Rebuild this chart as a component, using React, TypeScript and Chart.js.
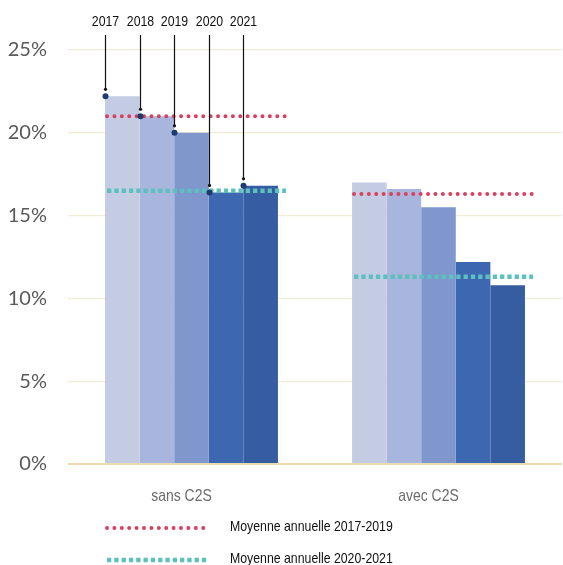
import { useEffect, useRef } from 'react';
import { Chart, registerables } from 'chart.js';

Chart.register(...registerables);

// Categories and yearly series (percent)
const categories = ['sans C2S', 'avec C2S'];
const years = ['2017', '2018', '2019', '2020', '2021'];
const y2017 = [22.2, 17.0];
const y2018 = [21.0, 16.6];
const y2019 = [20.0, 15.5];
const y2020 = [16.4, 12.2];
const y2021 = [16.8, 10.8];
const avg2017_2019 = [21.0, 16.3];
const avg2020_2021 = [16.5, 11.3];
const yTicks = [0, 5, 10, 15, 20, 25];
const legendLabels = ['Moyenne annuelle 2017-2019', 'Moyenne annuelle 2020-2021'];

const seriesByYear = [y2017, y2018, y2019, y2020, y2021];
const barColors = ['#c4cce4', '#a8b5dd', '#8097cd', '#3d67b0', '#365da2'];
const RED = '#d9405e';
const TEAL = '#5bc0be';
const SANS = '"Liberation Sans", Arial, sans-serif';
const NARROW_SCALE = 0.82;

// Condensed text: Liberation Sans squeezed horizontally
function narrowText(ctx: CanvasRenderingContext2D, text: string, x: number, y: number, size: number, color: string, align: CanvasTextAlign) {
  ctx.save();
  ctx.font = `${size}px ${SANS}`;
  ctx.fillStyle = color;
  ctx.textAlign = align;
  ctx.textBaseline = 'middle';
  ctx.translate(x, y);
  ctx.scale(NARROW_SCALE, 1);
  ctx.fillText(text, 0, 0);
  ctx.restore();
}

const avgStyles = [
  { values: avg2017_2019, color: RED, dash: [0, 7.4], cap: 'round' as CanvasLineCap, width: 4 },
  { values: avg2020_2021, color: TEAL, dash: [4.3, 3], cap: 'butt' as CanvasLineCap, width: 4.5 },
];

function strokeDotted(ctx: CanvasRenderingContext2D, s: typeof avgStyles[number], x0: number, x1: number, y: number) {
  ctx.save();
  ctx.strokeStyle = s.color;
  ctx.lineWidth = s.width;
  ctx.lineCap = s.cap;
  ctx.setLineDash(s.dash);
  ctx.beginPath();
  ctx.moveTo(x0, y);
  ctx.lineTo(x1, y);
  ctx.stroke();
  ctx.restore();
}

const overlayPlugin = {
  id: 'overlays',
  afterDatasetsDraw(chart: any) {
    const { ctx, chartArea } = chart;
    const ys = chart.scales.y;
    const barEl = (i: number, g: number) => chart.getDatasetMeta(i).data[g];

    // average lines across each group
    categories.forEach((_, g) => {
      const first = barEl(0, g);
      const last = barEl(years.length - 1, g);
      const x0 = first.x - first.width / 2 + 2;
      const x1 = last.x + last.width / 2 + 8;
      avgStyles.forEach((s) => strokeDotted(ctx, s, x0, x1, ys.getPixelForValue(s.values[g])));
    });

    // value markers and year leaders for the first group
    years.forEach((yr, i) => {
      const el = barEl(i, 0);
      const px = Math.round(el.x - el.width / 2) + 0.5;
      const py = ys.getPixelForValue(seriesByYear[i][0]);
      const endY = py - 7;
      ctx.save();
      ctx.strokeStyle = '#111';
      ctx.lineWidth = 1.2;
      ctx.beginPath();
      ctx.moveTo(px, chartArea.top - 15);
      ctx.lineTo(px, endY);
      ctx.stroke();
      ctx.fillStyle = '#111';
      ctx.beginPath();
      ctx.arc(px, endY, 1.6, 0, Math.PI * 2);
      ctx.fill();
      ctx.fillStyle = '#1f3a6e';
      ctx.beginPath();
      ctx.arc(px, py, 3, 0, Math.PI * 2);
      ctx.fill();
      ctx.restore();
      narrowText(ctx, yr, px, chartArea.top - 28, 15, '#111', 'center');
    });
  },
  afterDraw(chart: any) {
    const { ctx, chartArea } = chart;
    const xs = chart.scales.x;
    // category labels
    categories.forEach((c, g) => {
      narrowText(ctx, c, xs.getPixelForValue(g) - 10, chartArea.bottom + 32, 17, '#6b6b6b', 'center');
    });
    // legend
    avgStyles.forEach((s, k) => {
      const y = chartArea.bottom + 64 + k * 32;
      strokeDotted(ctx, s, chartArea.left + 39, chartArea.left + 141, y);
      narrowText(ctx, legendLabels[k], chartArea.left + 162, y - 1, 15, '#111', 'left');
    });
  },
};

export default function App() {
  const ref = useRef<HTMLCanvasElement>(null);

  useEffect(() => {
    if (!ref.current) return;
    const chart = new Chart(ref.current, {
      type: 'bar',
      data: {
        labels: categories,
        datasets: years.map((yr, i) => ({
          label: yr,
          data: seriesByYear[i],
          backgroundColor: barColors[i],
          borderWidth: 0,
          categoryPercentage: 0.7,
          barPercentage: 1,
        })),
      },
      options: {
        animation: false,
        responsive: false,
        layout: { padding: { top: 50, bottom: 41, left: 0, right: 1 } },
        plugins: {
          legend: { display: false },
          tooltip: { enabled: false },
        },
        scales: {
          x: {
            grid: { display: false },
            border: { display: false },
            ticks: { display: false },
            afterFit: (s: any) => { s.height = 60; },
          },
          y: {
            min: 0,
            max: 25,
            afterBuildTicks: (s: any) => { s.ticks = yTicks.map((v) => ({ value: v })); },
            border: { display: false },
            grid: {
              drawTicks: false,
              color: (c: any) => (c.tick && c.tick.value === 0 ? '#e8dcb0' : '#f2ebd5'),
              lineWidth: (c: any) => (c.tick && c.tick.value === 0 ? 2 : 1.3),
            },
            ticks: {
              color: '#595959',
              font: { family: 'Lato', size: 20 },
              padding: 21,
              callback: (v: any) => `${v}%`,
            },
            afterFit: (s: any) => { s.width = 68; },
          },
        },
      } as any,
      plugins: [overlayPlugin],
    });

    return () => chart.destroy();
  }, []);

  return (
    <div style={{ position: 'fixed', left: 0, top: 0, width: 563, height: 565, background: '#fff' }}>
      <canvas ref={ref} width={563} height={565} style={{ display: 'block' }} />
    </div>
  );
}
